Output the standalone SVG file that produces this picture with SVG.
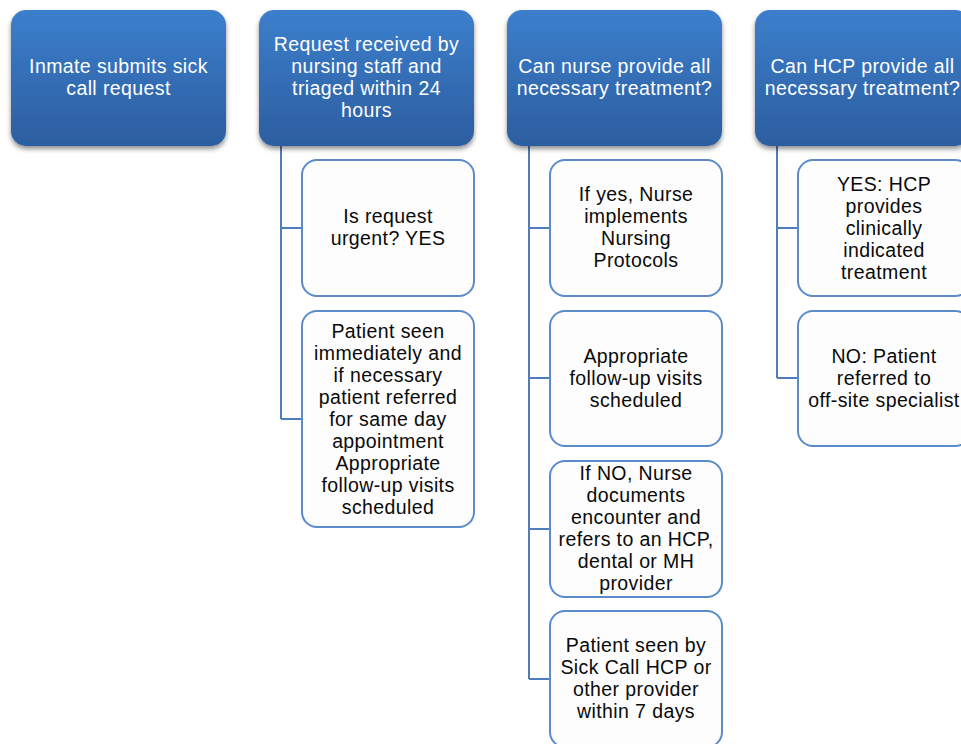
<svg xmlns="http://www.w3.org/2000/svg" width="961" height="744" viewBox="0 0 961 744">
  <defs>
    <linearGradient id="hdrFill" x1="0" y1="0" x2="0" y2="1">
      <stop offset="0" stop-color="#3c7fcd"/>
      <stop offset="1" stop-color="#2c5d9f"/>
    </linearGradient>
    <filter id="shadow" x="-10%" y="-10%" width="125%" height="130%">
      <feGaussianBlur in="SourceAlpha" stdDeviation="2.5"/>
      <feOffset dx="0" dy="3" result="b"/>
      <feComponentTransfer><feFuncA type="linear" slope="0.45"/></feComponentTransfer>
      <feMerge><feMergeNode/><feMergeNode in="SourceGraphic"/></feMerge>
    </filter>
  </defs>
  <style>
    text { font-family: "Liberation Sans", Arial, sans-serif; font-size: 19.5px; letter-spacing: 0.4px; text-anchor: middle; }
    .hdr rect { fill: url(#hdrFill); filter: url(#shadow); }
    .hdr text { fill: #ffffff; }
    .item rect { fill: #fdfdfd; stroke: #5b8bcb; stroke-width: 2; }
    .item text { fill: #0a0a0a; }
    .link { fill: none; stroke: #4f7dbb; stroke-width: 2; }
  </style>
  <rect width="961" height="744" fill="#ffffff"/>

  <!-- connectors -->
  <g id="connectors">
    <path class="link" d="M281 146 V419 M281 228 H302 M281 419 H302"/>
    <path class="link" d="M529 146 V679 M529 228 H550 M529 378 H550 M529 529 H550 M529 679 H550"/>
    <path class="link" d="M777 146 V378 M777 228 H798 M777 378 H798"/>
  </g>

  <!-- header row -->
  <g id="h1" class="hdr">
    <rect x="11" y="10" width="215" height="136" rx="15"/>
    <text x="118.5" y="73">Inmate submits sick</text>
    <text x="118.5" y="95">call request</text>
  </g>
  <g id="h2" class="hdr">
    <rect x="259" y="10" width="215" height="136" rx="15"/>
    <text x="366.5" y="51">Request received by</text>
    <text x="366.5" y="73">nursing staff and</text>
    <text x="366.5" y="95">triaged within 24</text>
    <text x="366.5" y="117">hours</text>
  </g>
  <g id="h3" class="hdr">
    <rect x="507" y="10" width="215" height="136" rx="15"/>
    <text x="614.5" y="73">Can nurse provide all</text>
    <text x="614.5" y="95">necessary treatment?</text>
  </g>
  <g id="h4" class="hdr">
    <rect x="755" y="10" width="215" height="136" rx="15"/>
    <text x="862.5" y="73">Can HCP provide all</text>
    <text x="862.5" y="95">necessary treatment?</text>
  </g>

  <!-- column 2 items -->
  <g id="n2a" class="item">
    <rect x="302" y="160" width="172" height="136" rx="15"/>
    <text x="388" y="223">Is request</text>
    <text x="388" y="245">urgent? YES</text>
  </g>
  <g id="n2b" class="item">
    <rect x="302" y="311" width="172" height="216" rx="15"/>
    <text x="388" y="338">Patient seen</text>
    <text x="388" y="360">immediately and</text>
    <text x="388" y="382">if necessary</text>
    <text x="388" y="404">patient referred</text>
    <text x="388" y="426">for same day</text>
    <text x="388" y="448">appointment</text>
    <text x="388" y="470">Appropriate</text>
    <text x="388" y="492">follow-up visits</text>
    <text x="388" y="514">scheduled</text>
  </g>

  <!-- column 3 items -->
  <g id="n3a" class="item">
    <rect x="550" y="160" width="172" height="136" rx="15"/>
    <text x="636" y="201">If yes, Nurse</text>
    <text x="636" y="223">implements</text>
    <text x="636" y="245">Nursing</text>
    <text x="636" y="267">Protocols</text>
  </g>
  <g id="n3b" class="item">
    <rect x="550" y="311" width="172" height="135" rx="15"/>
    <text x="636" y="363">Appropriate</text>
    <text x="636" y="385">follow-up visits</text>
    <text x="636" y="407">scheduled</text>
  </g>
  <g id="n3c" class="item">
    <rect x="550" y="461" width="172" height="136" rx="15"/>
    <text x="636" y="480">If NO, Nurse</text>
    <text x="636" y="502">documents</text>
    <text x="636" y="524">encounter and</text>
    <text x="636" y="546">refers to an HCP,</text>
    <text x="636" y="568">dental or MH</text>
    <text x="636" y="590">provider</text>
  </g>
  <g id="n3d" class="item">
    <rect x="550" y="611" width="172" height="136" rx="15"/>
    <text x="636" y="652">Patient seen by</text>
    <text x="636" y="674">Sick Call HCP or</text>
    <text x="636" y="696">other provider</text>
    <text x="636" y="718">within 7 days</text>
  </g>

  <!-- column 4 items -->
  <g id="n4a" class="item">
    <rect x="798" y="160" width="172" height="136" rx="15"/>
    <text x="884" y="191">YES: HCP</text>
    <text x="884" y="213">provides</text>
    <text x="884" y="235">clinically</text>
    <text x="884" y="257">indicated</text>
    <text x="884" y="279">treatment</text>
  </g>
  <g id="n4b" class="item">
    <rect x="798" y="311" width="172" height="135" rx="15"/>
    <text x="884" y="363">NO: Patient</text>
    <text x="884" y="385">referred to</text>
    <text x="884" y="407">off-site specialist</text>
  </g>
</svg>
